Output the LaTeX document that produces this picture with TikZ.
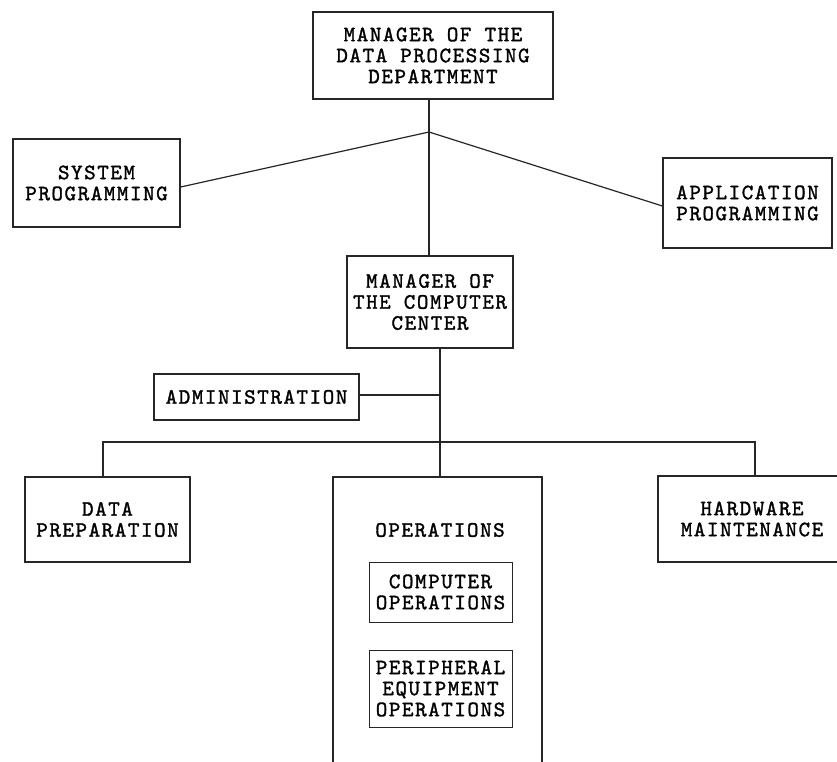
\documentclass[tikz,border=0pt]{standalone}
\usepackage{fontspec}
% typewriter face: Latin Modern Mono, spaced out and thickened a little
\newfontfamily\lmtype{lmmono10-regular.otf}[LetterSpace=7,FakeBold=1.4]
\newcommand{\typeface}{\lmtype\fontsize{22}{21}\selectfont}
\begin{document}
\begin{tikzpicture}[x=1pt,y=-1pt,
  ink/.style={draw=black!85, line width=1.2pt},
  box/.style={ink, align=center, inner sep=0pt, anchor=center, font=\typeface},
  label/.style={align=center, inner sep=0pt, anchor=center, font=\typeface},
  link/.style={ink}]
\clip (0,0) rectangle (837,761);
\fill[white] (0,0) rectangle (837,761);

% upper level
\node[box, minimum width=240pt, minimum height=87pt] (dpm) at (433,55.5)
  {MANAGER OF THE\\DATA PROCESSING\\DEPARTMENT};
\node[box, minimum width=167pt, minimum height=88pt] (sys) at (96.5,183)
  {SYSTEM\\PROGRAMMING};
\node[box, minimum width=169pt, minimum height=90pt] (app) at (747.5,203)
  {APPLICATION\\PROGRAMMING};
\node[box, minimum width=166pt, minimum height=92pt] (mcc) at (430,302)
  {MANAGER OF\\THE COMPUTER\\CENTER};
\coordinate (j) at (429,132);

\draw[link] (dpm.south -| j) -- (j) -- (mcc.north -| j);
\draw[link] ([yshift=-4pt]sys.east) -- (j);
\draw[link] ([yshift=-3pt]app.west) -- (j);

% computer center
\node[box, minimum width=205pt, minimum height=46pt] (adm) at (256.5,397)
  {ADMINISTRATION};
\node[box, minimum width=165pt, minimum height=85pt] (dp) at (107.5,519.5)
  {DATA\\PREPARATION};
\node[box, minimum width=188pt, minimum height=86pt] (hw) at (752,519)
  {HARDWARE\\MAINTENANCE};
\node[box, minimum width=209pt, minimum height=313pt] (ops) at (437.5,633.5) {};
\node[label] (opst) at (440,530) {OPERATIONS};
\node[box, line width=1pt, minimum width=143pt, minimum height=60pt] (cop) at (440.5,592)
  {COMPUTER\\OPERATIONS};
\node[box, line width=1pt, minimum width=143pt, minimum height=77pt] (pop) at (440.5,688.5)
  {PERIPHERAL\\EQUIPMENT\\OPERATIONS};

\coordinate (bus) at (440,442);
\coordinate (busL) at (103,442);
\coordinate (busR) at (755,442);

\draw[link] (mcc.south -| bus) -- (bus) -- (ops.north -| bus);
\draw[link] ([yshift=2pt]adm.east) -- ([yshift=2pt]adm.east -| bus);
\draw[link] (dp.north -| busL) -- (busL) -- (busR) -- (hw.north -| busR);
\end{tikzpicture}
\end{document}
